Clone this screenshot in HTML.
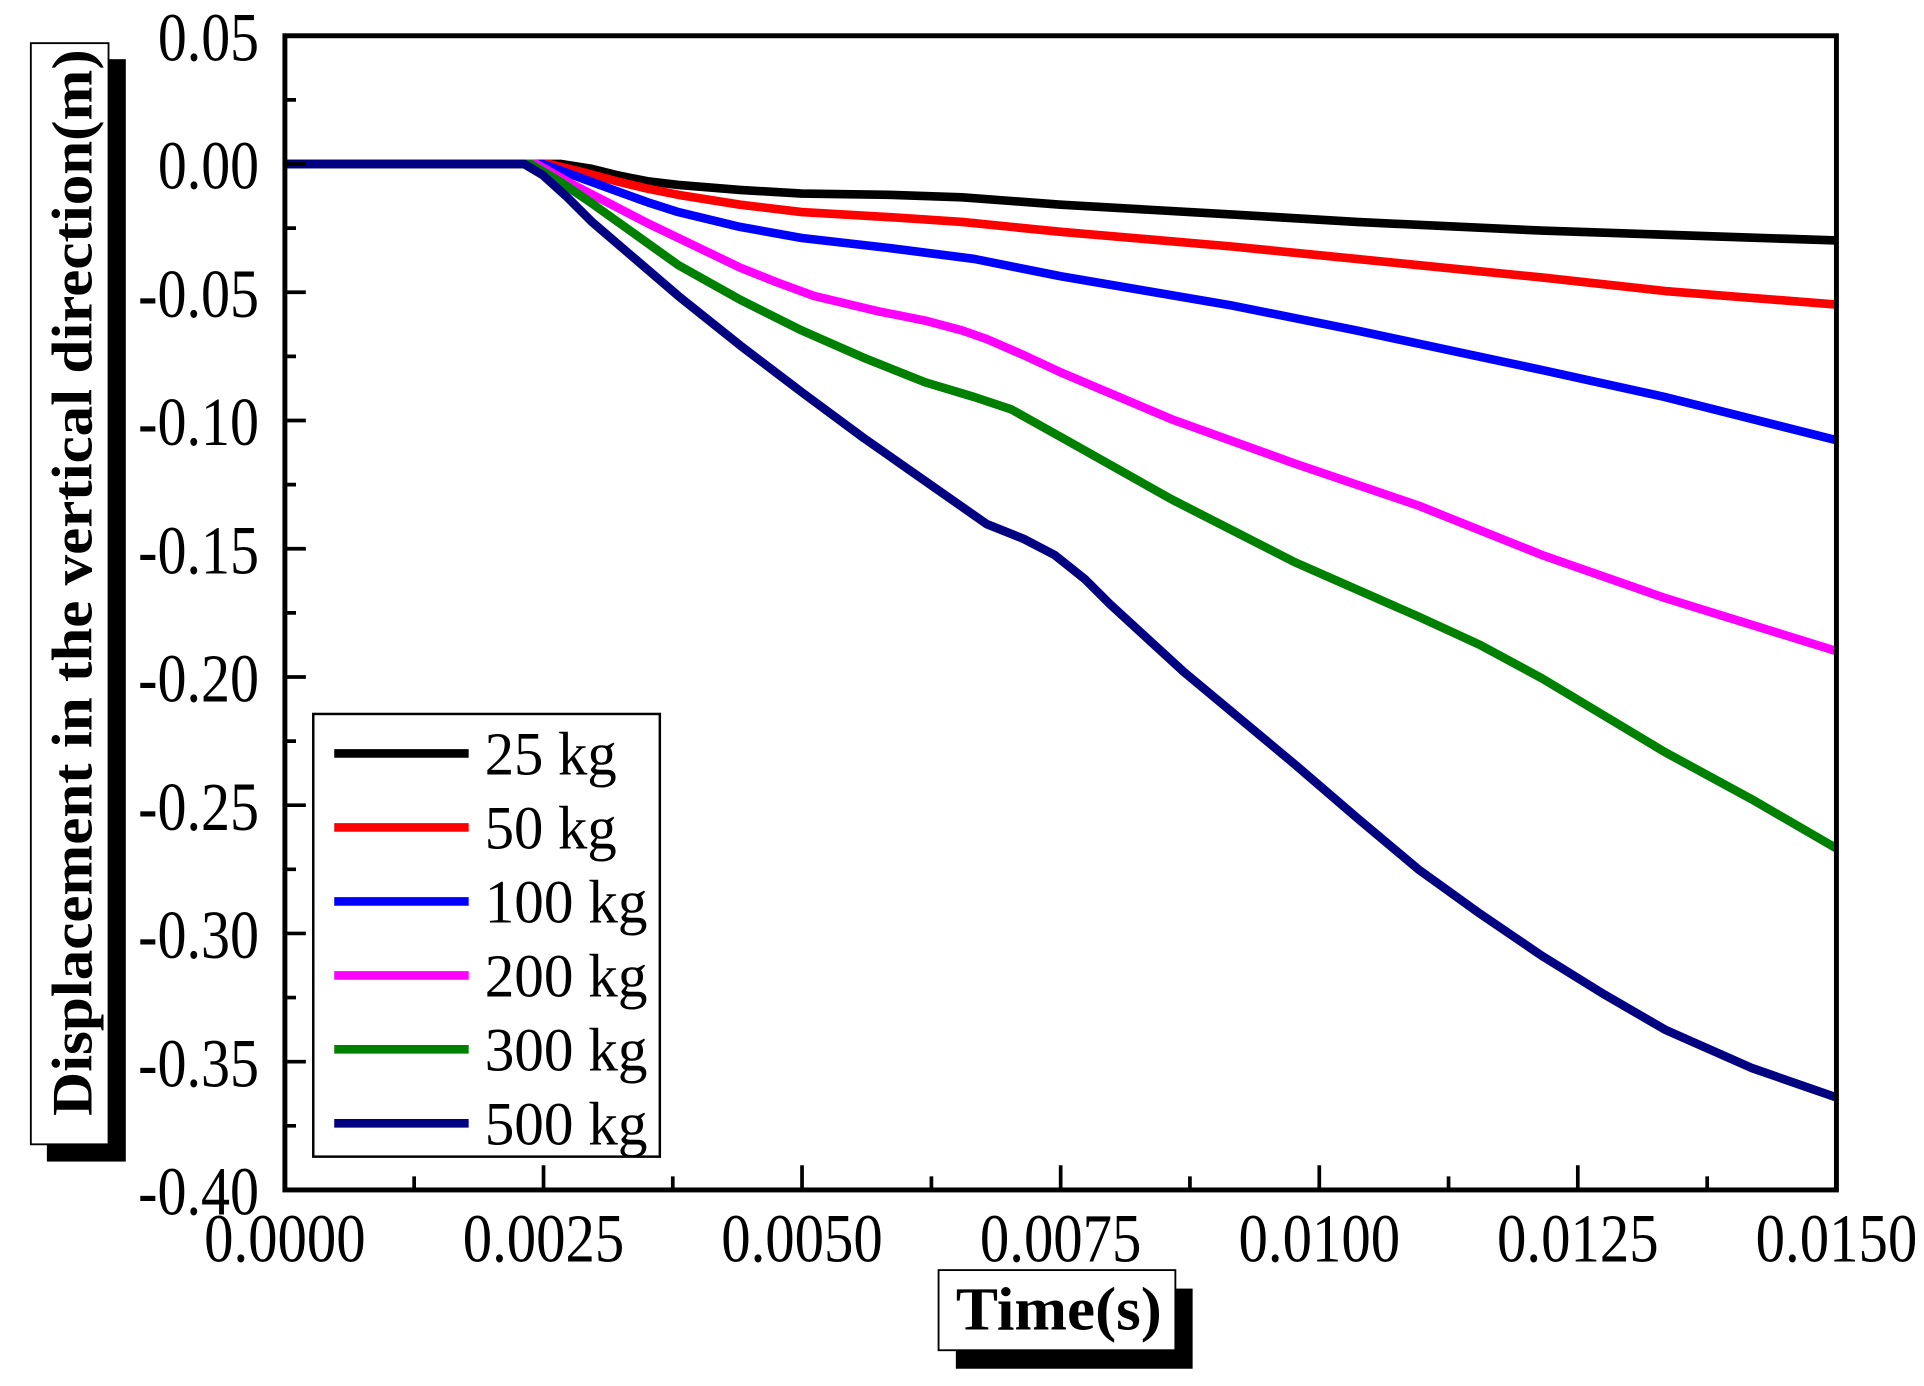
<!DOCTYPE html>
<html><head><meta charset="utf-8"><style>html,body{margin:0;padding:0;background:#fff}svg{display:block}</style></head>
<body>
<svg width="1924" height="1386" viewBox="0 0 1560 1124" preserveAspectRatio="none" xmlns="http://www.w3.org/2000/svg" font-family="'Liberation Serif', serif">
<rect width="1560" height="1124" fill="#fff"/>
<g fill="none" stroke-width="7" stroke-linejoin="round" stroke-linecap="butt">
<polyline stroke="#000" points="231,133 455,133 480,137 500,142 525,147 550,150 600,154 650,157 720,158 780,160 820,163 860,166 930,170 1000,174 1100,180 1250,187 1489,195"/>
<polyline stroke="#ff0000" points="231,133 445,133 470,139 500,147 525,153 550,158 600,166 650,172 720,176 780,180 820,184 860,188 930,194 1000,200 1100,210 1250,225 1350,236 1489,247"/>
<polyline stroke="#0000ff" points="231,133 440,133 470,144 500,155 525,164 550,172 600,184 650,193 720,201 790,210 825,217 860,224 930,236 1000,248 1100,268 1250,300 1350,322 1489,357"/>
<polyline stroke="#ff00ff" points="231,133 435,133 465,150 500,168 525,181 550,193 600,217 630,229 660,240 710,252 750,260 780,268 800,275 830,288 860,302 950,340 1050,376 1150,410 1250,450 1350,485 1489,528"/>
<polyline stroke="#008000" points="231,133 430,133 455,148 480,165 515,190 550,215 600,243 650,268 700,290 750,310 790,322 820,332 845,346 870,360 950,405 1050,456 1150,500 1200,523 1250,550 1350,610 1420,648 1489,688"/>
<polyline stroke="#000080" points="231,133 425,133 440,142 460,160 480,180 515,210 550,240 600,280 650,318 700,355 750,390 800,425 830,437 855,450 880,470 900,490 960,545 1050,620 1100,663 1150,705 1200,741 1250,775 1300,806 1350,835 1420,866 1489,890"/>
</g>
<rect x="231" y="29" width="1258" height="936" fill="none" stroke="#000" stroke-width="4"/>
<g stroke="#000" stroke-width="3">
<path d="M231,29h17M231,133h17M231,237h17M231,341h17M231,445h17M231,549h17M231,653h17M231,757h17M231,861h17M231,965h17"/>
<path d="M231,81h9M231,185h9M231,289h9M231,393h9M231,497h9M231,601h9M231,705h9M231,809h9M231,913h9"/>
<path d="M231,965v-20M440.7,965v-20M650.3,965v-20M860,965v-20M1069.7,965v-20M1279.3,965v-20M1489,965v-20"/>
<path d="M335.8,965v-11M545.5,965v-11M755.2,965v-11M964.8,965v-11M1174.5,965v-11M1384.2,965v-11"/>
</g>
<g font-size="56" text-anchor="end" fill="#000">
<text x="210" y="49" textLength="82" lengthAdjust="spacingAndGlyphs">0.05</text>
<text x="210" y="153" textLength="82" lengthAdjust="spacingAndGlyphs">0.00</text>
<text x="210" y="257" textLength="98" lengthAdjust="spacingAndGlyphs">-0.05</text>
<text x="210" y="361" textLength="98" lengthAdjust="spacingAndGlyphs">-0.10</text>
<text x="210" y="465" textLength="98" lengthAdjust="spacingAndGlyphs">-0.15</text>
<text x="210" y="569" textLength="98" lengthAdjust="spacingAndGlyphs">-0.20</text>
<text x="210" y="673" textLength="98" lengthAdjust="spacingAndGlyphs">-0.25</text>
<text x="210" y="777" textLength="98" lengthAdjust="spacingAndGlyphs">-0.30</text>
<text x="210" y="881" textLength="98" lengthAdjust="spacingAndGlyphs">-0.35</text>
<text x="210" y="985" textLength="98" lengthAdjust="spacingAndGlyphs">-0.40</text>
</g>
<g font-size="56" text-anchor="middle" fill="#000">
<text x="231" y="1023" textLength="131" lengthAdjust="spacingAndGlyphs">0.0000</text>
<text x="440.7" y="1023" textLength="131" lengthAdjust="spacingAndGlyphs">0.0025</text>
<text x="650.3" y="1023" textLength="131" lengthAdjust="spacingAndGlyphs">0.0050</text>
<text x="860" y="1023" textLength="131" lengthAdjust="spacingAndGlyphs">0.0075</text>
<text x="1069.7" y="1023" textLength="131" lengthAdjust="spacingAndGlyphs">0.0100</text>
<text x="1279.3" y="1023" textLength="131" lengthAdjust="spacingAndGlyphs">0.0125</text>
<text x="1489" y="1023" textLength="131" lengthAdjust="spacingAndGlyphs">0.0150</text>
</g>
<rect x="254" y="579" width="281" height="359" fill="#fff" stroke="#000" stroke-width="2"/>
<g stroke-width="7">
<path d="M271,611h109" stroke="#000"/>
<path d="M271,671h109" stroke="#ff0000"/>
<path d="M271,731h109" stroke="#0000ff"/>
<path d="M271,791h109" stroke="#ff00ff"/>
<path d="M271,851h109" stroke="#008000"/>
<path d="M271,911h109" stroke="#000080"/>
</g>
<g font-size="50" fill="#000">
<text x="393" y="628" textLength="107" lengthAdjust="spacingAndGlyphs">25 kg</text>
<text x="393" y="688" textLength="107" lengthAdjust="spacingAndGlyphs">50 kg</text>
<text x="393" y="748" textLength="132" lengthAdjust="spacingAndGlyphs">100 kg</text>
<text x="393" y="808" textLength="132" lengthAdjust="spacingAndGlyphs">200 kg</text>
<text x="393" y="868" textLength="132" lengthAdjust="spacingAndGlyphs">300 kg</text>
<text x="393" y="928" textLength="132" lengthAdjust="spacingAndGlyphs">500 kg</text>
</g>
<rect x="38" y="48" width="64" height="894" fill="#000"/>
<rect x="25" y="35" width="63" height="893" fill="#fff" stroke="#000" stroke-width="1.5"/>
<text transform="translate(74,905) rotate(-90)" font-size="46" font-weight="bold" textLength="865" lengthAdjust="spacingAndGlyphs">Displacement in the vertical direction(m)</text>
<rect x="775" y="1045" width="192" height="65" fill="#000"/>
<rect x="761" y="1030" width="192" height="65" fill="#fff" stroke="#000" stroke-width="1.5"/>
<text x="775" y="1078" font-size="50" font-weight="bold" textLength="167" lengthAdjust="spacingAndGlyphs">Time(s)</text>
</svg>
</body></html>
